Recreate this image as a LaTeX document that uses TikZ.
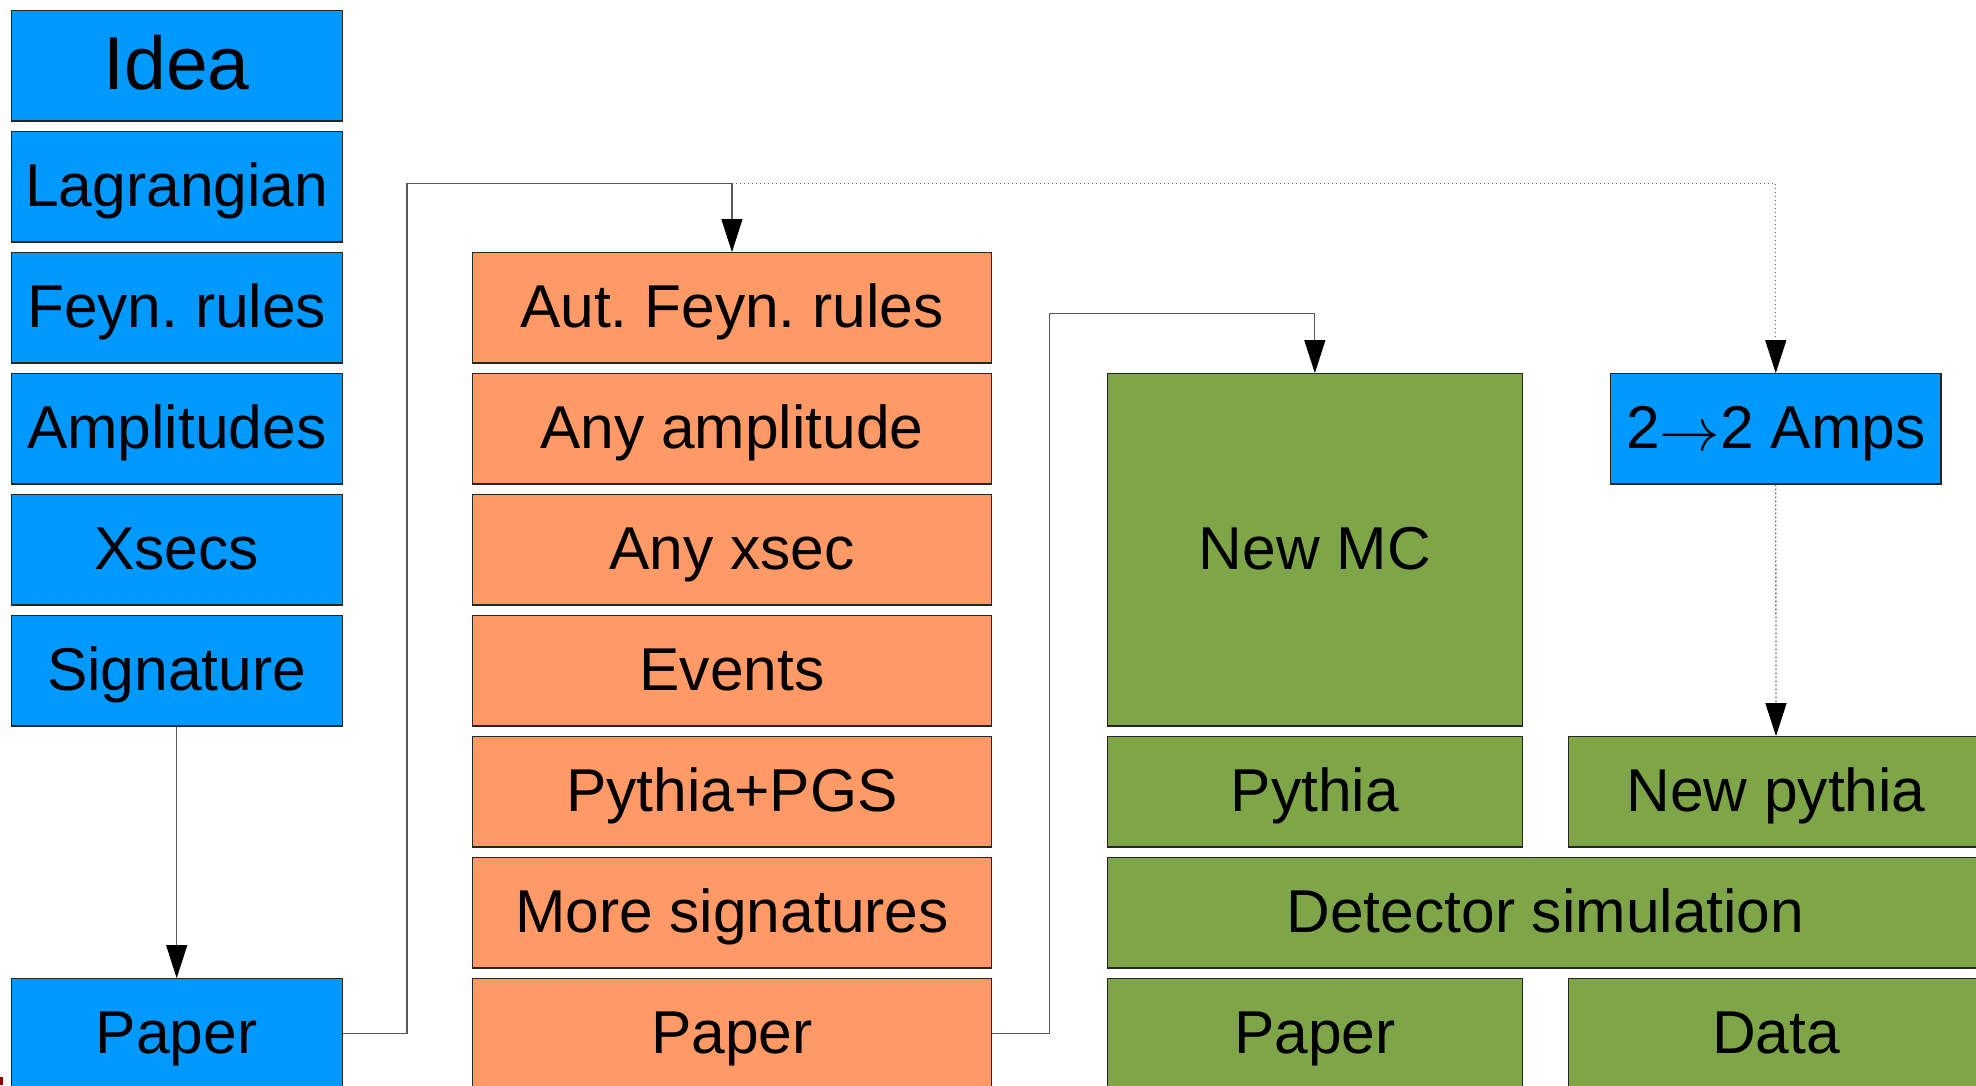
\RequirePackage{fix-cm}
\documentclass[tikz,border=0pt]{standalone}
\usepackage{fontspec}
\setmainfont{Liberation Sans}
\frenchspacing
\usetikzlibrary{arrows.meta}
\definecolor{cblue}{RGB}{0,153,255}
\definecolor{corange}{RGB}{255,153,102}
\definecolor{cgreen}{RGB}{126,166,72}
\definecolor{cline}{RGB}{90,90,90}
\tikzset{
  box/.style={rectangle, draw=black!85, line width=1.2pt, inner sep=0pt, align=center,
    font=\fontsize{60.5}{70}\selectfont, text height=43.5pt, text depth=5pt},
  bluebox/.style={box, fill=cblue, minimum width=331pt, minimum height=110.3pt},
  orbox/.style={box, fill=corange, minimum width=519.3pt, minimum height=110.3pt},
  grbox/.style={box, fill=cgreen, minimum width=414.7pt, minimum height=110.3pt},
  conn/.style={draw=cline, line width=1.1pt},
  dotconn/.style={draw=cline, line width=1.3pt, dash pattern=on 1.5pt off 2.5pt},
  tip/.style={-{Triangle[length=33pt,width=21pt,black,fill=black]}}
}
\begin{document}
\begin{tikzpicture}[x=1pt,y=-1pt]
\useasboundingbox (0,0) rectangle (1976,1085);
\fill[white] (0,0) rectangle (1976,1085);
% blue column
\node[bluebox, font=\fontsize{75}{80}\selectfont, text height=54pt, text depth=7pt] (idea) at (176.7,65.85) {Idea};
\node[bluebox] (lag) at (176.7,186.85) {Lagrangian};
\node[bluebox] (feyn) at (176.7,307.85) {Feyn. rules};
\node[bluebox] (amp) at (176.7,428.85) {Amplitudes};
\node[bluebox] (xs) at (176.7,549.85) {Xsecs};
\node[bluebox] (sig) at (176.7,670.85) {Signature};
\node[bluebox] (bpaper) at (176.7,1033.85) {Paper};
% orange column
\node[orbox] (aut) at (731.95,307.85) {Aut. Feyn. rules};
\node[orbox] (anyamp) at (731.95,428.85) {Any amplitude};
\node[orbox] (anyxs) at (731.95,549.85) {Any xsec};
\node[orbox] (ev) at (731.95,670.85) {Events};
\node[orbox] (pgs) at (731.95,791.85) {Pythia+PGS};
\node[orbox] (more) at (731.95,912.85) {More signatures};
\node[orbox] (opaper) at (731.95,1033.85) {Paper};
% green
\node[grbox, minimum height=352.3pt] (newmc) at (1314.85,549.85) {New MC};
\node[grbox] (py) at (1314.85,791.85) {Pythia};
\node[grbox] (newpy) at (1776,791.85) {New pythia};
\node[grbox, minimum width=875.9pt] (det) at (1545.45,912.85) {Detector simulation};
\node[grbox] (gpaper) at (1314.85,1033.85) {Paper};
\node[grbox] (data) at (1776,1033.85) {Data};
% blue 2->2
\node[bluebox, minimum width=330.5pt] (amps) at (1775.75,428.85) {2\raisebox{-2pt}{$\rightarrow$}2 Amps};
% connectors
\coordinate (j1) at (407,183.5);
\coordinate (j2) at (731.95,183.5);
\coordinate (j3) at (1775.75,183.5);
\coordinate (k1) at (1049.8,313.8);
\coordinate (k2) at (1314.85,313.8);
\draw[conn, tip] (sig.south) -- (bpaper.north);
\draw[conn, tip] (bpaper.east) -| (j1) -- (j2) -- (aut.north);
\draw[dotconn, tip] (j2) -- (j3) -- (amps.north);
\draw[dotconn, tip] (amps.south) -- (newpy.north);
\draw[conn, tip] (opaper.east) -| (k1) -- (k2) -- (newmc.north);
% small red mark at bottom-left edge
\fill[red!60!black] (0,1077) rectangle (3,1085);
\end{tikzpicture}
\end{document}
